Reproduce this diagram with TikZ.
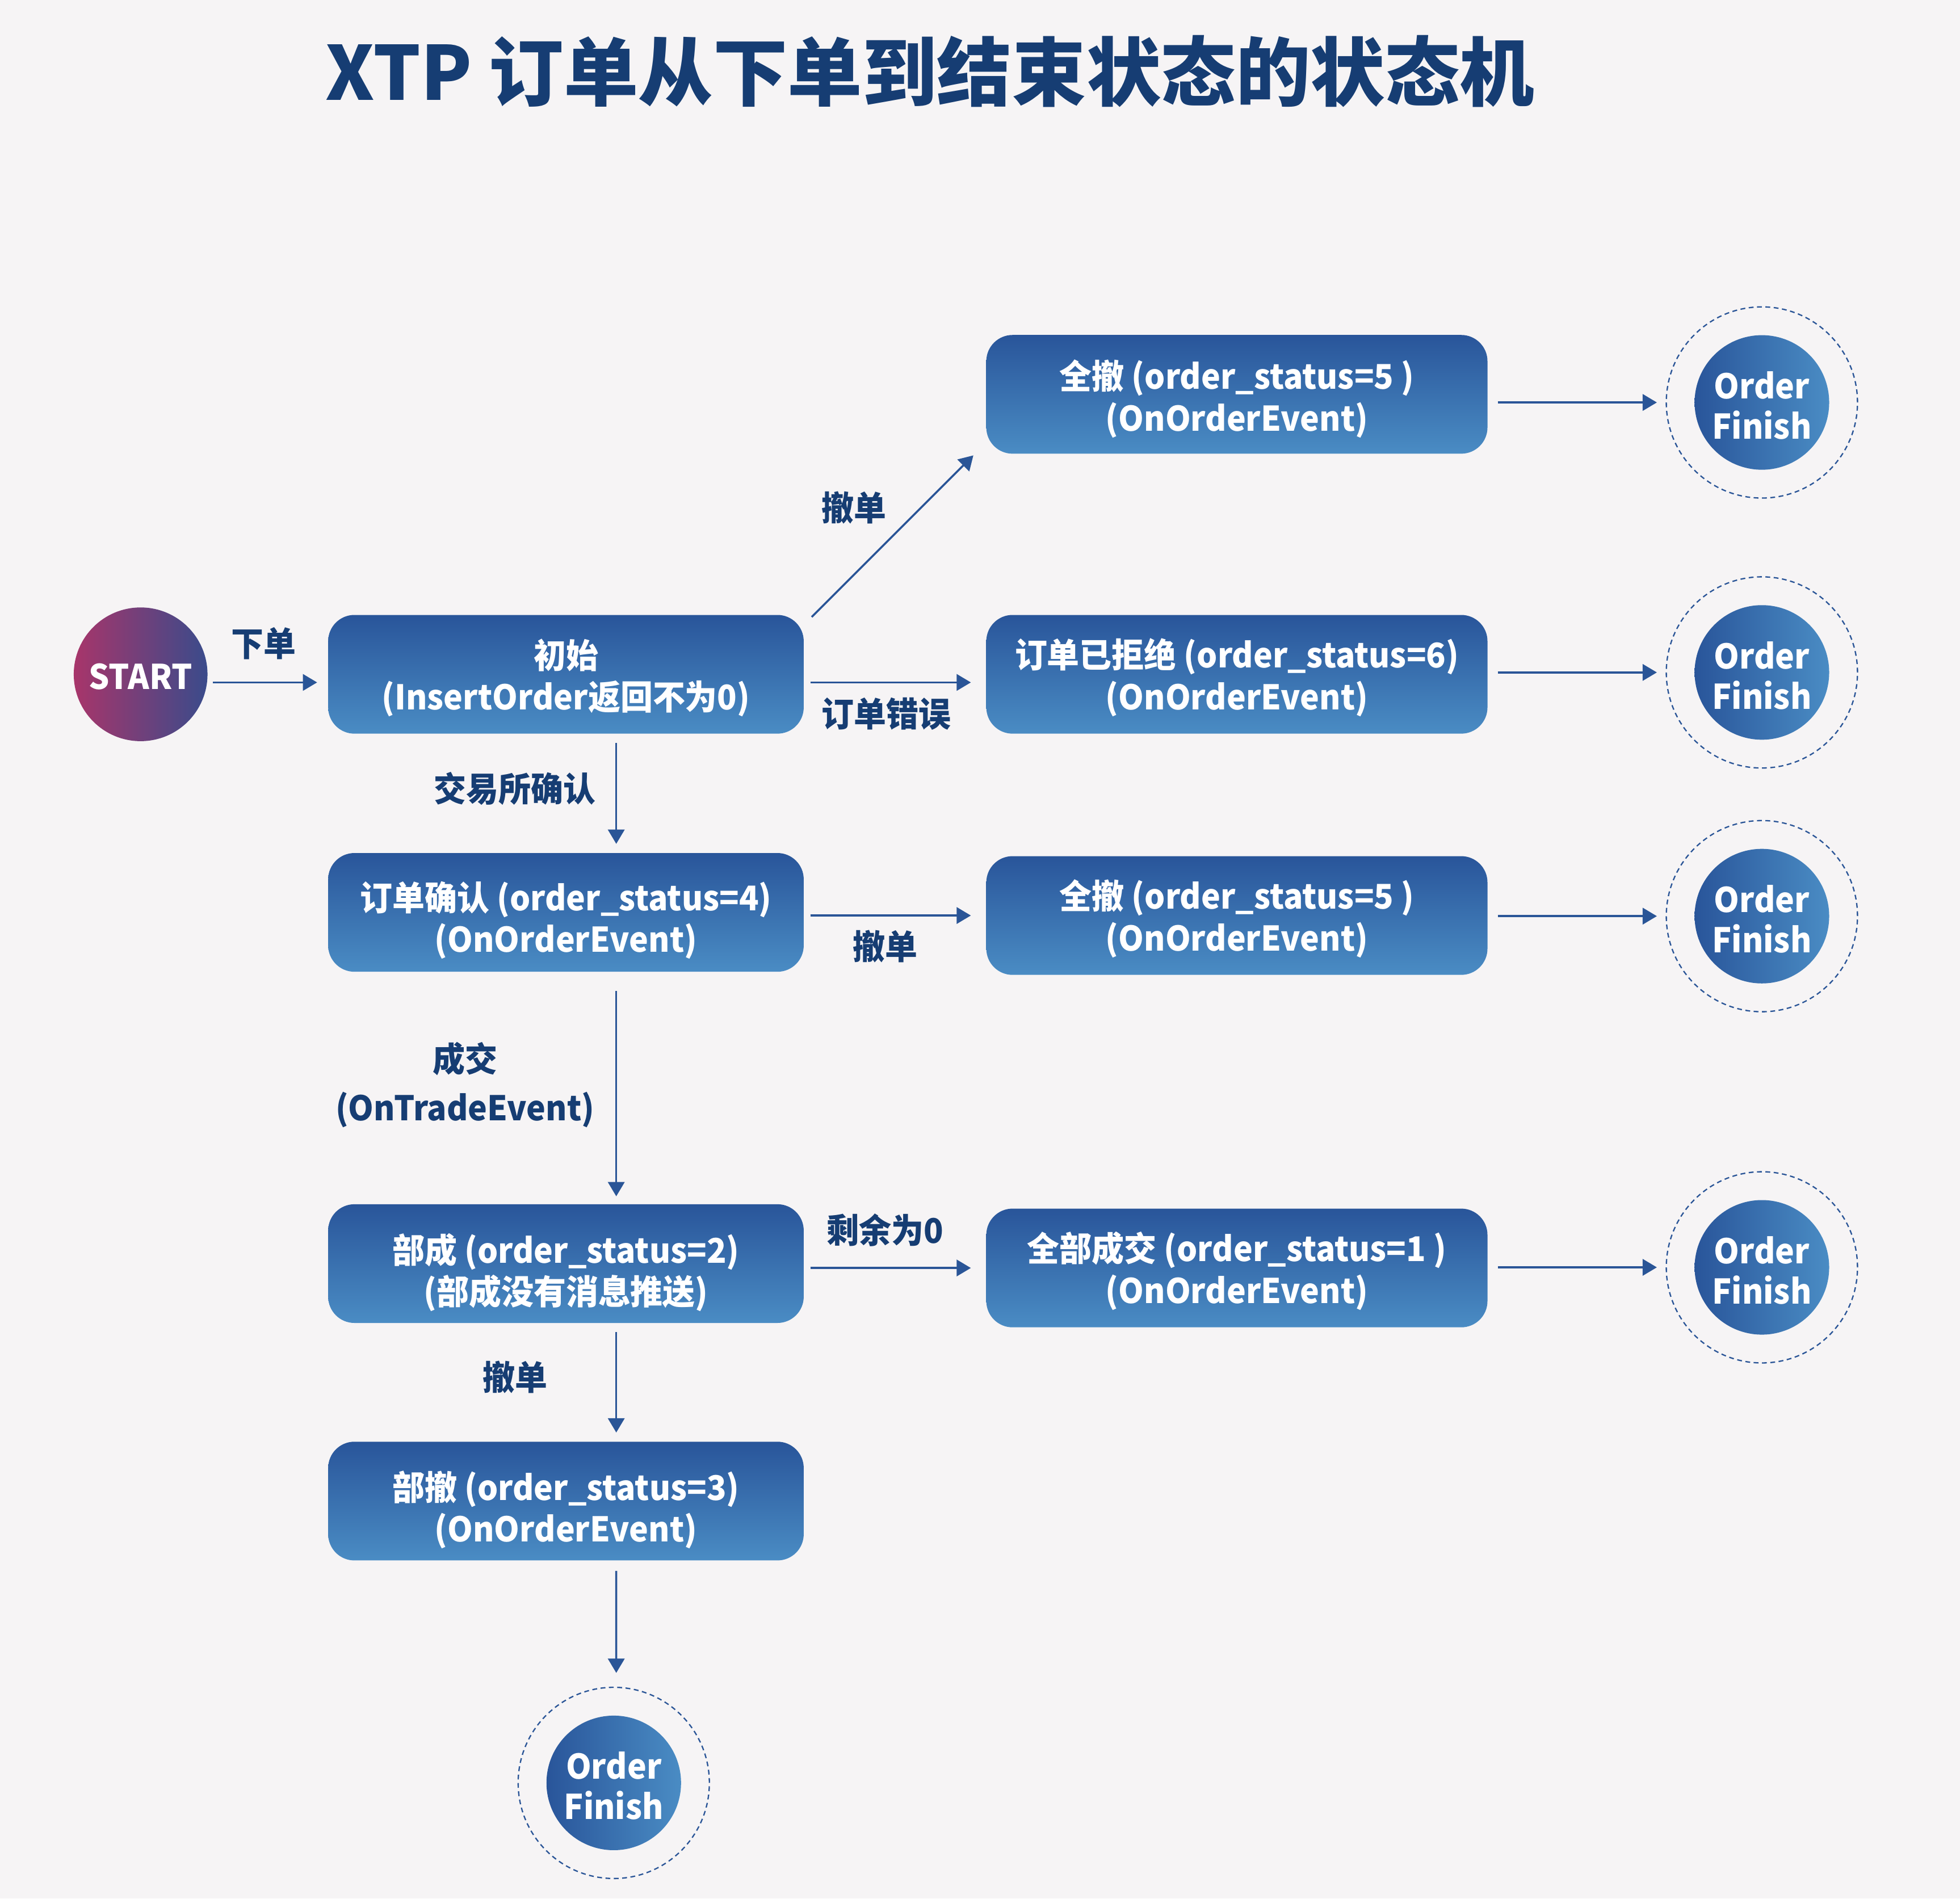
\documentclass[tikz,border=0pt]{standalone}
\usepackage{fontspec}
\setmainfont{Noto Sans CJK SC}
\newfontfamily\nfont{Noto Sans CJK SC}[FakeStretch=0.95]
\usetikzlibrary{arrows.meta}
\definecolor{bgc}{HTML}{F6F4F5}
\definecolor{navy}{HTML}{163D73}
\definecolor{boxtop}{HTML}{29559A}
\definecolor{boxbot}{HTML}{4A8CC4}
\definecolor{arrc}{HTML}{2A5597}
\definecolor{stL}{HTML}{A8356A}
\definecolor{stR}{HTML}{3A4B8B}
\newdimen\pxu \pxu=0.02cm
% two-line text with fixed extents: #1 = height of first line box
\newcommand\bx[3]{\rule{0pt}{#1}#2\\#3\rule[-8pt]{0pt}{0pt}}
\newcommand\fx[2]{\rule{0pt}{18.9pt}#1\\#2\rule[-4pt]{0pt}{0pt}}
\tikzset{
  sbox/.style={rectangle, rounded corners=0.42cm, minimum height=1.9cm, inner sep=0pt,
    top color=boxtop, bottom color=boxbot, draw=none, text=white, align=center,
    font=\nfont\fontsize{15.5}{18.9}\selectfont\bfseries},
  lbox/.style={sbox, minimum width=7.61cm},
  rbox/.style={sbox, minimum width=8.02cm},
  fin/.style={circle, minimum size=2.14cm, inner sep=0pt, left color=boxtop, right color=boxbot,
    draw=none, text=white, align=center, font=\nfont\fontsize{15.5}{18.3}\selectfont\bfseries},
  ring/.style={circle, minimum size=3.06cm, inner sep=0pt, draw=arrc, line width=0.6pt,
    dash pattern=on 2.2pt off 1.6pt},
  lab/.style={text=navy, align=center, font=\nfont\fontsize{15.5}{22}\selectfont\bfseries},
  arr/.style={draw=arrc, line width=0.9pt, -{Triangle[length=6.5pt,width=7.5pt]}},
}
\begin{document}
\begin{tikzpicture}[x=0.02cm, y=-0.02cm]
\fill[bgc] (0,0) rectangle (1568,1519);
\useasboundingbox (0,0) rectangle (1568,1519);

\node[text=navy, font=\fontsize{34}{40}\selectfont\bfseries] (title) at (744,57) {XTP 订单从下单到结束状态的状态机};

\node[circle, minimum size=2.14cm, inner sep=0pt, left color=stL, right color=stR, text=white,
  font=\nfont\fontsize{15.5}{18.7}\selectfont\bfseries] (start) at (112.5,539.5) {\rule{0pt}{15pt}START\rule[-1.4pt]{0pt}{0pt}};

\node[lbox] (init) at (452.75,539.5) {\bx{21.6pt}{初始}{(InsertOrder返回不为0)}};
\node[lbox] (confirm) at (452.75,730) {\bx{25.1pt}{订单确认 (order\_status=4)}{(OnOrderEvent)}};
\node[lbox] (part) at (452.75,1011) {\bx{26.2pt}{部成 (order\_status=2)}{(部成没有消息推送)}};
\node[lbox] (partc) at (452.75,1201) {\bx{26.2pt}{部撤 (order\_status=3)}{(OnOrderEvent)}};

\node[rbox] (c1) at (989.5,315.5) {\bx{22.3pt}{全撤 (order\_status=5 )}{(OnOrderEvent)}};
\node[rbox] (rej) at (989.5,539.5) {\bx{21.1pt}{订单已拒绝 (order\_status=6)}{(OnOrderEvent)}};
\node[rbox] (c2) at (989.5,732.5) {\bx{21.1pt}{全撤 (order\_status=5 )}{(OnOrderEvent)}};
\node[rbox] (full) at (989.5,1014.5) {\bx{21.1pt}{全部成交 (order\_status=1 )}{(OnOrderEvent)}};

\node[ring] (fo1) at (1409.5,322) {};
\node[fin] (f1) at (1409.5,322) {\fx{Order}{Finish}};
\node[ring] (fo2) at (1409.5,538) {};
\node[fin] (f2) at (1409.5,538) {\fx{Order}{Finish}};
\node[ring] (fo3) at (1409.5,733) {};
\node[fin] (f3) at (1409.5,733) {\fx{Order}{Finish}};
\node[ring] (fo4) at (1409.5,1014) {};
\node[fin] (f4) at (1409.5,1014) {\fx{Order}{Finish}};
\node[ring] (fo5) at (491,1426.5) {};
\node[fin] (f5) at (491,1426.5) {\fx{Order}{Finish}};

% labels
\node[lab] (l1) at (211,515) {下单};
\node[lab] (l2) at (683,406) {撤单};
\node[lab] (l3) at (709,571) {订单错误};
\node[lab] (l4) at (412,631) {交易所确认};
\node[lab] (l5) at (708,757) {撤单};
\node[lab] (l6) at (372,868) {成交\\(OnTradeEvent)};
\node[lab] (l7) at (708,984) {剩余为0};
\node[lab] (l8) at (412,1102) {撤单};

% arrows
\draw[arr, shorten <=4\pxu, shorten >=8.5\pxu] ([yshift=-6.5\pxu]start.east) -- ([yshift=-6.5\pxu]init.west);
\draw[arr, shorten <=5\pxu, shorten >=12\pxu] ([yshift=-6.5\pxu]init.east) -- ([yshift=-6.5\pxu]rej.west);
\draw[arr] ([xshift=6\pxu,yshift=-2\pxu]init.north east) -- ([xshift=-10\pxu,yshift=-1\pxu]c1.south west);
\draw[arr, shorten <=5\pxu, shorten >=12\pxu] (confirm.east |- c2.west) -- (c2.west);
\draw[arr, shorten <=5\pxu, shorten >=12\pxu] (part.east |- full.west) -- (full.west);

\draw[arr, shorten <=8\pxu, shorten >=7\pxu] (c1.east |- fo1.west) -- (fo1.west);
\draw[arr, shorten <=8\pxu, shorten >=7\pxu] (rej.east |- fo2.west) -- (fo2.west);
\draw[arr, shorten <=8\pxu, shorten >=7\pxu] (c2.east |- fo3.west) -- (fo3.west);
\draw[arr, shorten <=8\pxu, shorten >=7\pxu] (full.east |- fo4.west) -- (fo4.west);

\draw[arr, shorten <=7\pxu, shorten >=7\pxu] ([xshift=40.25\pxu]init.south) -- ([xshift=40.25\pxu]confirm.north);
\draw[arr, shorten <=15\pxu, shorten >=6\pxu] ([xshift=40.25\pxu]confirm.south) -- ([xshift=40.25\pxu]part.north);
\draw[arr, shorten <=7\pxu, shorten >=7\pxu] ([xshift=40.25\pxu]part.south) -- ([xshift=40.25\pxu]partc.north);
\draw[arr, shorten <=8\pxu, shorten >=11\pxu] ([xshift=40.25\pxu]partc.south) -- ([xshift=2\pxu]fo5.north);
\end{tikzpicture}
\end{document}
